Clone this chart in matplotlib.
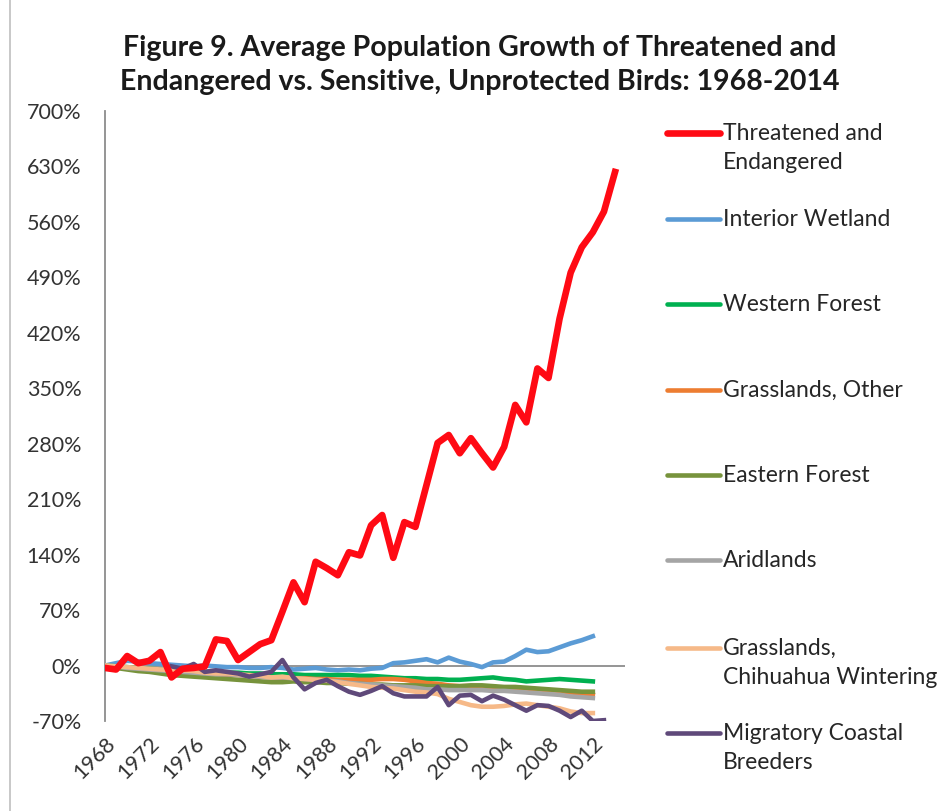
import matplotlib
matplotlib.use("Agg")
import matplotlib.pyplot as plt
from matplotlib.lines import Line2D
import numpy as np

plt.rcParams['font.family'] = ['Lato', 'DejaVu Sans']

# ---- data (% growth since 1968) ----
years_all = list(range(1968, 2015))          # 1968..2014
years_main = list(range(1968, 2013))         # 1968..2012
years_coastal = list(range(1974, 2014))      # 1974..2013

threatened = [-3, -5, 12, 3, 6, 17, -15, -4, -3, -1,
              33, 31, 7, 17, 27, 32, 68, 105, 80, 131,
              123, 114, 143, 139, 177, 190, 136, 181, 175, 228,
              281, 291, 268, 287, 268, 250, 276, 329, 307, 375,
              363, 438, 496, 528, 547, 573, 623]
interior_wetland = [0, 3, 6, 5, 3, 2, 1, 0, -1, 0,
                    -1, -2, -2, -3, -3, -2, -3, -5, -4, -3,
                    -5, -6, -5, -6, -4, -3, 3, 4, 6, 8,
                    4, 10, 5, 2, -2, 4, 5, 12, 20, 17,
                    18, 23, 28, 32, 37]
western_forest = [0, -1, -2, -3, -4, -5, -6, -6, -7, -8,
                  -8, -9, -9, -10, -10, -11, -11, -11, -12, -12,
                  -12, -12, -12, -13, -13, -14, -15, -16, -16, -17,
                  -17, -18, -18, -17, -16, -15, -17, -18, -20, -19,
                  -18, -17, -18, -19, -20]
grasslands_other = [0, -2, -3, -4, -5, -6, -7, -8, -9, -10,
                    -11, -12, -12, -13, -14, -15, -15, -16, -16, -17,
                    -17, -18, -18, -18, -18, -17, -17, -18, -20, -22,
                    -23, -25, -26, -26, -27, -27, -28, -28, -29, -30,
                    -31, -32, -34, -35, -37]
eastern_forest = [0, -3, -5, -7, -8, -10, -12, -13, -14, -15,
                  -16, -17, -18, -19, -20, -21, -21, -20, -21, -21,
                  -22, -22, -23, -23, -24, -24, -25, -25, -25, -26,
                  -26, -26, -26, -25, -25, -26, -27, -27, -28, -29,
                  -30, -31, -32, -33, -33]
aridlands = [0, -1, -3, -4, -5, -6, -7, -8, -9, -10,
             -11, -11, -12, -13, -14, -15, -15, -16, -17, -18,
             -19, -20, -22, -23, -24, -25, -26, -27, -28, -30,
             -30, -31, -31, -31, -31, -32, -32, -33, -34, -35,
             -36, -37, -39, -40, -41]
chihuahua = [0, -1, -2, -3, -4, -5, -6, -6, -7, -9,
             -10, -10, -11, -12, -13, -15, -14, -16, -17, -18,
             -19, -21, -23, -25, -27, -28, -29, -31, -33, -34,
             -36, -42, -46, -50, -52, -52, -51, -49, -48, -50,
             -52, -54, -58, -60, -60]
coastal = [-1, -4, 2, -8, -6, -8, -10, -14, -11, -8,
           7, -15, -30, -22, -18, -26, -33, -37, -32, -26,
           -35, -39, -39, -39, -27, -50, -38, -37, -45, -38,
           -43, -50, -57, -50, -51, -57, -65, -57, -70, -69]

series = [
    ("Threatened and\nEndangered", years_all, threatened, "#FF0A14", 4.8),
    ("Interior Wetland", years_main, interior_wetland, "#5B9BD5", 3.3),
    ("Western Forest", years_main, western_forest, "#00B050", 3.3),
    ("Grasslands, Other", years_main, grasslands_other, "#ED7D31", 3.3),
    ("Eastern Forest", years_main, eastern_forest, "#77933C", 3.3),
    ("Aridlands", years_main, aridlands, "#A5A5A5", 3.3),
    ("Grasslands,\nChihuahua Wintering", years_main, chihuahua, "#F6B988", 3.3),
    ("Migratory Coastal\nBreeders", years_coastal, coastal, "#5F497A", 3.3),
]

W, H = 951, 811
fig = plt.figure(figsize=(W / 100, H / 100), dpi=100)
ax = fig.add_axes([105 / W, 1 - 721 / H, 520 / W, 610 / H])

# draw the low series first, red on top
for i, (name, xs, ys, col, lw) in enumerate(series[1:]):
    ax.plot(xs, ys, color=col, lw=lw, solid_joinstyle='round', zorder=3 + i * 0.1)
name, xs, ys, col, lw = series[0]
ax.plot(xs, ys, color=col, lw=lw, solid_joinstyle='round', zorder=5)

ax.axhline(0, color="#8C8C8C", lw=1.3, zorder=2)
ax.set_xlim(1968, 2014.9)
ax.set_ylim(-70, 700)
ax.set_yticks(np.arange(-70, 701, 70))
ax.set_yticklabels([f"{v}%" for v in range(-70, 701, 70)])
ax.set_xticks(range(1968, 2013, 4))
ax.set_xticklabels([str(y) for y in range(1968, 2013, 4)], rotation=45,
                   ha='right', va='top', rotation_mode='anchor')
ax.tick_params(axis='both', length=0, labelsize=15.5, colors="#333333")
ax.tick_params(axis='y', pad=17)
ax.tick_params(axis='x', pad=9)
for s in ['top', 'right', 'bottom']:
    ax.spines[s].set_visible(False)
ax.spines['left'].set_color("#8C8C8C")
ax.spines['left'].set_linewidth(1.3)

# title
fig.text(480 / W, 1 - 65 / H,
         "Figure 9. Average Population Growth of Threatened and\n"
         "Endangered vs. Sensitive, Unprotected Birds: 1968-2014",
         ha='center', va='center', fontsize=20.5, fontweight='bold',
         color="#1a1a1a", linespacing=1.4)

# legend drawn on the right, first text line next to the line sample
legend_y = [133, 219, 304, 390, 475, 560, 648, 733]
for (name, xs, ys, col, lw), py in zip(series, legend_y):
    fy = 1 - py / H
    fig.add_artist(Line2D([667 / W, 720 / W], [fy, fy], color=col,
                          lw=lw, solid_capstyle='round'))
    fig.text(723 / W, fy + 10 / H, name, ha='left', va='top', fontsize=16.5,
             color="#262626", linespacing=1.45)

# outer frame edge seen on the left of the screenshot
fig.add_artist(Line2D([10 / W, 10 / W], [0, 1], color="#BFBFBF", lw=1.2))

fig.savefig("out.png", dpi=100)
